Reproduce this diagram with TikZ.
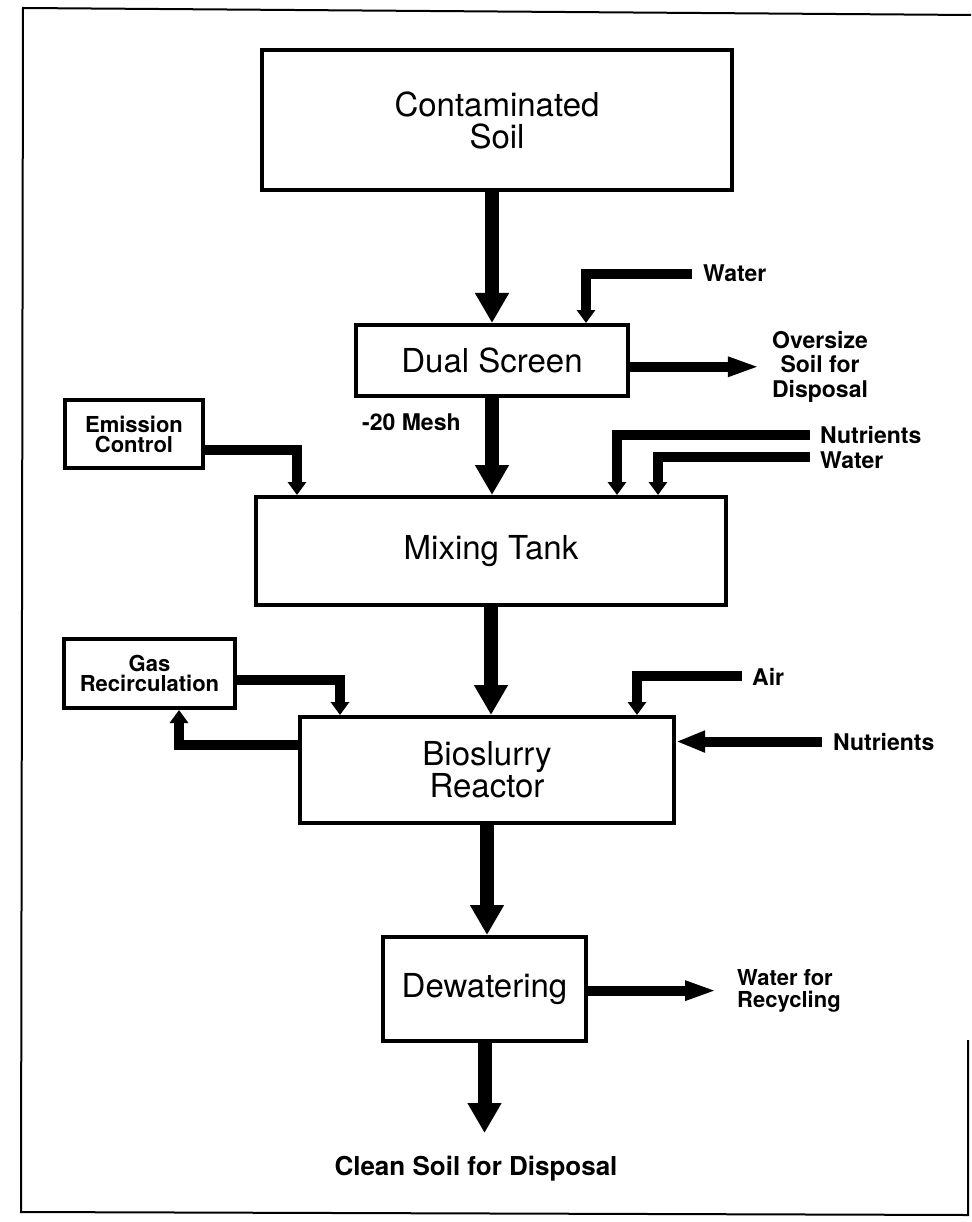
\documentclass[tikz,border=0pt]{standalone}
\usepackage{fontspec}
\setmainfont{TeX Gyre Heros}
\usetikzlibrary{arrows.meta}
\begin{document}
\begin{tikzpicture}[x=1pt,y=-1pt,
  box/.style={draw, line width=4pt, inner sep=0pt, align=center},
  boxtext/.style={font=\fontsize{33}{32}\selectfont},
  lab/.style={inner sep=0pt, font=\fontsize{23}{24.5}\selectfont\bfseries},
  smalltext/.style={font=\fontsize{22}{20}\selectfont\bfseries},
  big/.style={line width=14pt, -{Triangle[length=30pt,width=32pt]}},
  flow/.style={line width=10pt, -{Triangle[length=13pt,width=18pt]}},
  outflow/.style={line width=10pt, -{Triangle[length=32pt,width=18pt]}},
  inflow/.style={line width=10pt, -{Triangle[length=29pt,width=20pt]}},
]
\useasboundingbox (0,0) rectangle (971,1222);
% frame
\draw[line width=2pt] (971,15) -- (23,8) -- (21,1212) -- (968,1215) -- (968,1040);

% boxes
\node[box, boxtext, minimum width=470pt, minimum height=140pt] (cs) at (497,120) {Contaminated\\Soil};
\node[box, boxtext, minimum width=272pt, minimum height=71pt] (ds) at (492,360.5) {Dual Screen};
\node[box, smalltext, minimum width=138pt, minimum height=68pt] (em) at (134,434) {Emission\\Control};
\node[box, boxtext, minimum width=470pt, minimum height=108pt] (mt) at (491,551) {Mixing Tank};
\node[box, smalltext, minimum width=171pt, minimum height=69pt] (gr) at (149.5,673.5) {Gas\\Recirculation};
\node[box, boxtext, minimum width=374pt, minimum height=106pt] (br) at (487,770) {Bioslurry\\Reactor};
\node[box, boxtext, minimum width=203pt, minimum height=104pt] (dw) at (484.5,989) {Dewatering};

% labels
\node[lab, anchor=base west] (w1) at (703,282) {Water};
\node[lab, anchor=north, align=center] (os) at (820,331) {Oversize\\Soil for\\Disposal};
\node[lab, anchor=base west] (mesh) at (362,430) {-20 Mesh};
\node[lab, anchor=base west] (n1) at (820,443) {Nutrients};
\node[lab, anchor=base west] (w2) at (820,468) {Water};
\node[lab, anchor=base west] (air) at (752,685) {Air};
\node[lab, anchor=base west] (n3) at (833,750) {Nutrients};
\node[lab, anchor=north west, align=left, font=\fontsize{22}{22}\selectfont\bfseries] (wr) at (737,969) {Water for\\Recycling};
\node[inner sep=0pt, anchor=base, font=\fontsize{26}{26}\selectfont\bfseries] (clean) at (476,1175) {Clean Soil for Disposal};
\coordinate (cleantip) at (482,1133);

% main flow
\draw[big] (cs.south -| ds.north) -- (ds.north);
\draw[big] (ds.south) -- (ds.south |- mt.north);
\draw[big] (mt.south) -- (mt.south |- br.north);
\draw[big] (br.south) -- (br.south |- dw.north);
\draw[big] (dw.south) -- (dw.south |- cleantip);

% side flows
\draw[flow] ([xshift=-11pt]w1.west) -| ([xshift=94pt]ds.north);
\draw[outflow, shorten >=12pt] (ds.east |- os.west) -- (os.west);
\draw[flow] ([yshift=-16pt]em.east) -| ([xshift=-194pt]mt.north);
\draw[flow] ([xshift=-10pt]n1.west) -| ([xshift=126pt]mt.north);
\draw[flow] ([xshift=-10pt,yshift=3pt]w2.west) -| ([xshift=167pt]mt.north);
\draw[flow] ([yshift=-6.5pt]gr.east) -| ([xshift=-147pt]br.north);
\draw[flow] ([yshift=25pt]br.west) -| ([xshift=29.5pt]gr.south);
\draw[flow] ([xshift=-10pt]air.west) -| ([xshift=150pt]br.north);
\draw[inflow] ([xshift=-11pt]n3.west) -- (br.east |- n3.west);
\draw[outflow, shorten >=20pt] (dw.east |- wr.west) -- (wr.west);
\end{tikzpicture}
\end{document}
